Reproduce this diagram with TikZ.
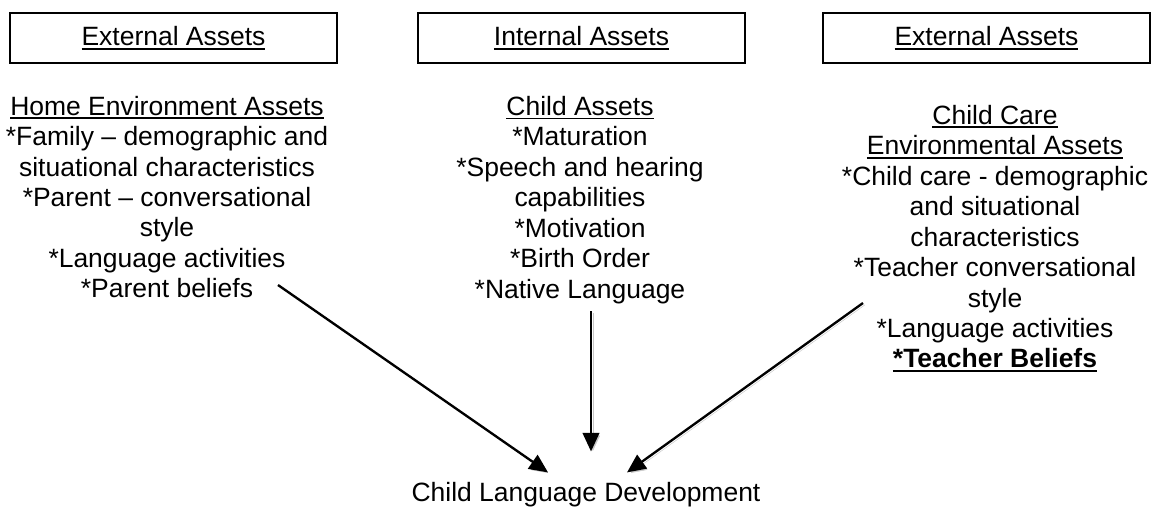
\documentclass[tikz,border=0pt]{standalone}
\usepackage{fontspec}
\setmainfont{Liberation Sans}
\usetikzlibrary{arrows.meta,calc,shadows}

\newcommand{\ulasset}[1]{\leavevmode\setbox0=\hbox{#1}\rlap{\rule[-3.4pt]{\wd0}{1.5pt}}\box0}

\tikzset{
  assetbox/.style={draw, line width=1.5pt, fill=white, inner sep=0pt,
    minimum width=9.81cm, minimum height=1.5cm,
    drop shadow={shadow xshift=1pt, shadow yshift=-1pt, fill=black!50, opacity=1}},
  assetlist/.style={align=center, inner sep=0pt},
  flow/.style={-{Triangle[length=0.56cm,width=0.5cm]}, line width=2pt,
    preaction={draw=black!22, transform canvas={xshift=1.6pt,yshift=-1.6pt}}},
}

\begin{document}
\begin{tikzpicture}[x=0.03cm,y=-0.03cm,font=\fontsize{22.6}{26}\selectfont]
\useasboundingbox (0,0) rectangle (1155,512);

% headings
\node[assetbox] (exthome) at (173.5,38) {\ulasset{External Assets}};
\node[assetbox] (intchild) at (581.5,38) {\ulasset{Internal Assets}};
\node[assetbox] (extcare) at (986.5,38) {\ulasset{External Assets}};

% asset lists
\node[assetlist] (home) at (167,197) {\ulasset{Home Environment Assets}\\{}*Family -- demographic and\\situational characteristics\\{}*Parent -- conversational\\style\\{}*Language activities\\{}*Parent beliefs};
\node[assetlist] (child) at (580,200) {\ulasset{Child Assets}\\{}*Maturation\\{}*Speech and hearing\\capabilities\\{}*Motivation\\{}*Birth Order\\{}*Native Language};
\node[assetlist] (care) at (995,238.5) {\ulasset{Child Care}\\\ulasset{Environmental Assets}\\{}*Child care - demographic\\and situational\\characteristics\\{}*Teacher conversational\\style\\{}*Language activities\\\ulasset{\textbf{*Teacher Beliefs}}};

\node[assetlist] (dev) at (586,495) {Child Language Development};

% arrows
\coordinate (homeout) at (278,285);
\coordinate (childout) at (591,311);
\coordinate (careout) at (863,303);
\draw[flow] (homeout) -- ($(dev.north)+(-38,-10)$);
\draw[flow] (childout) -- ($(dev.north)+(5,-31)$);
\draw[flow] (careout) -- ($(dev.north)+(41,-10)$);
\end{tikzpicture}
\end{document}
